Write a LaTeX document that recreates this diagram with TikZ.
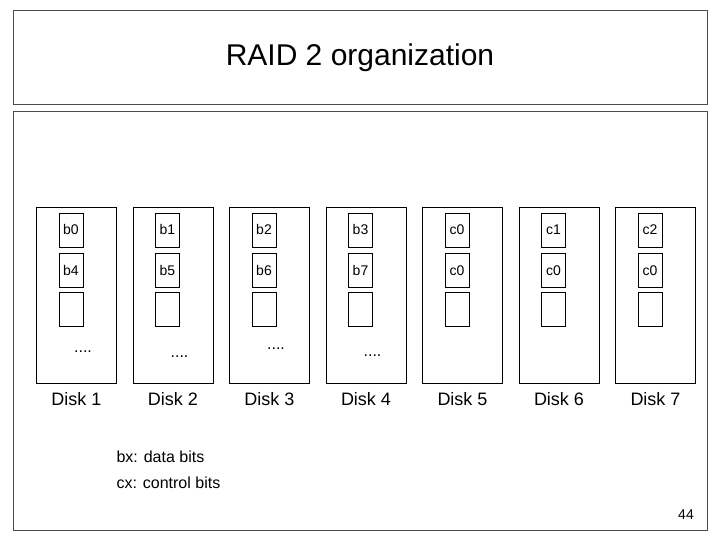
\documentclass[tikz,border=0pt]{standalone}
\usepackage{fontspec}
\setmainfont{Liberation Sans}
\begin{document}
\begin{tikzpicture}[x=1pt,y=-1pt,
    frame/.style={draw=black!70, line width=0.6pt},
    disk/.style={draw, line width=0.6pt, minimum width=80pt, minimum height=176pt},
    cell/.style={draw, line width=0.6pt, minimum width=24pt, minimum height=34pt, inner sep=0pt, text height=10pt, text depth=0pt, font=\fontsize{14}{16}\selectfont}]
    \useasboundingbox (0,0) rectangle (720,540);
    \draw[frame] (13,10) rectangle (707,104);
    \node (title) at (360,58) {\fontsize{30}{34}\selectfont RAID 2 organization};
    \draw[frame] (13,111) rectangle (707,530);

    \foreach \i/\a/\b in {1/b0/b4,2/b1/b5,3/b2/b6,4/b3/b7,5/c0/c0,6/c1/c0,7/c2/c0}{
      \node[disk] (d\i) at ({76.5+96.5*(\i-1)},295) {};
      \node[cell] (d\i a) at ({71+96.5*(\i-1)},230) {\a};
      \node[cell] (d\i b) at ({71+96.5*(\i-1)},270) {\b};
      \node[cell] (d\i c) at ({71+96.5*(\i-1)},309) {};
      \node[font=\fontsize{18}{20}\selectfont] (l\i) at ({76.5+96.5*(\i-1)},399) {Disk \i};
    }
    \foreach \i/\dy in {1/352,2/357,3/349,4/356}
      \node (dots\i) at ({83+96.5*(\i-1)},\dy) {\fontsize{16}{18}\selectfont ....};

    \node[anchor=west, align=left, font=\fontsize{16}{26}\selectfont] (legend) at (113,470) {bx: data bits\\cx: control bits};
    \node[font=\fontsize{14}{16}\selectfont] (page) at (686,515) {44};
\end{tikzpicture}
\end{document}
